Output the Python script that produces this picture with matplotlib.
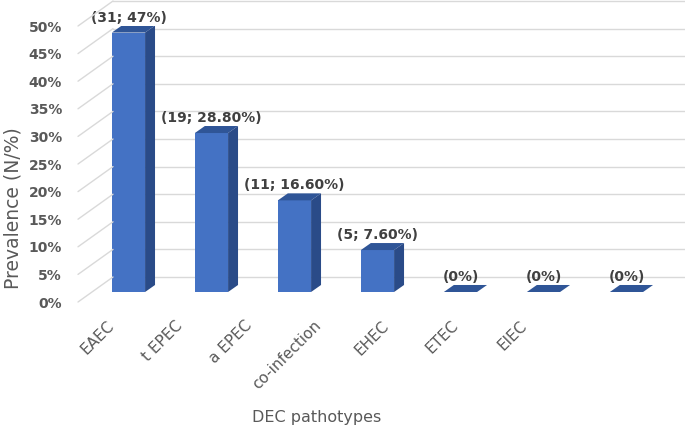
import numpy as np
import matplotlib
matplotlib.use("Agg")
import matplotlib.pyplot as plt
from matplotlib.patches import Polygon, ConnectionPatch
from matplotlib.transforms import offset_copy


categories = ["EAEC", "t EPEC", "a EPEC", "co-infection", "EHEC", "ETEC", "EIEC"]
prevalence = [0.47, 0.288, 0.166, 0.076, 0.0, 0.0, 0.0]
value_labels = ["(31; 47%)", "(19; 28.80%)", "(11; 16.60%)", "(5; 7.60%)", "(0%)", "(0%)", "(0%)"]
y_ticks = [0.0, 0.05, 0.10, 0.15, 0.20, 0.25, 0.30, 0.35, 0.40, 0.45, 0.50]
y_tick_labels = ["0%", "5%", "10%", "15%", "20%", "25%", "30%", "35%", "40%", "45%", "50%"]

FRONT = "#4472c4"
TOP = "#2f5597"
SIDE = "#2a4b88"
GRID = "#d9d9d9"
TEXT = "#595959"

W, H = 685, 428


def px_rect(left, top, right, bottom):
    return [left / W, 1 - bottom / H, (right - left) / W, (bottom - top) / H]


fig = plt.figure(figsize=(W / 100, H / 100), dpi=100)

# back wall with the gridlines
wall = fig.add_axes(px_rect(113, 1, 685, 277))
wall.set_ylim(0, 0.5)
wall.set_xticks([])
wall.set_yticks([])
for v in y_ticks:
    wall.axhline(v, color=GRID, linewidth=1, clip_on=False)
for s in wall.spines.values():
    s.set_visible(False)

# axes for the category labels (front edge of the floor)
lab = fig.add_axes(px_rect(82.6, 26, 564.4, 302))
lab.set_facecolor("none")
lab.set_xlim(-0.5, len(categories) - 0.5)
lab.set_xticks(np.arange(len(categories)))
lab.set_xticklabels(categories, rotation=45, ha="right", va="top")
lab.tick_params(axis="x", length=0, pad=11.5, labelsize=11, colors=TEXT)
lab.set_yticks([])
for s in lab.spines.values():
    s.set_visible(False)
lab.set_xlabel("DEC pathotypes", fontsize=11.5, color=TEXT)
lab.xaxis.set_label_coords(0.4865, -0.391)

# front axes: bars and value scale
ax = fig.add_axes(px_rect(78, 26, 685, 302))
ax.set_facecolor("none")
ax.set_xlim(-0.608, 6.705)
ax.set_ylim(0, 0.5)
ax.set_xticks([])
ax.set_yticks(y_ticks)
ax.set_yticklabels(y_tick_labels)
ax.tick_params(axis="y", length=0, pad=11.5, labelsize=10, colors=TEXT)
for lbl in ax.get_yticklabels():
    lbl.set_fontweight("bold")
for s in ax.spines.values():
    s.set_visible(False)
ax.set_ylabel("Prevalence (N/%)", fontsize=13.5, color=TEXT)
ax.yaxis.set_label_coords(-0.092, 0.34)

# floor diagonals joining the value scale to the wall
x0 = ax.get_xlim()[0]
for v in y_ticks:
    cp = ConnectionPatch(xyA=(x0, v), coordsA=ax.transData,
                         xyB=(0, v), coordsB=wall.transData,
                         color=GRID, linewidth=1)
    fig.add_artist(cp)

front_tr = offset_copy(ax.transData, fig=fig, x=0, y=10, units="dots")

x = np.arange(len(categories))
bar_w = 0.4
depth_x = 0.12
depth_y = 0.0127

ax.bar(x, prevalence, width=bar_w, color=FRONT, transform=front_tr, zorder=3)

for xi, v, text in zip(x, prevalence, value_labels):
    l = xi - bar_w / 2
    r = xi + bar_w / 2
    top = [(l, v), (r, v), (r + depth_x, v + depth_y), (l + depth_x, v + depth_y)]
    ax.add_patch(Polygon(top, closed=True, facecolor=TOP, edgecolor="none",
                         transform=front_tr, zorder=3))
    if v > 0:
        side = [(r, 0), (r, v), (r + depth_x, v + depth_y), (r + depth_x, depth_y)]
        ax.add_patch(Polygon(side, closed=True, facecolor=SIDE, edgecolor="none",
                             transform=front_tr, zorder=3))
    ax.annotate(text, xy=(xi, v), xycoords=front_tr, xytext=(0, 8),
                textcoords="offset pixels", ha="center", va="bottom",
                fontsize=10, fontweight="bold", color="#404040", zorder=4)

fig.savefig("out.png", dpi=100)
